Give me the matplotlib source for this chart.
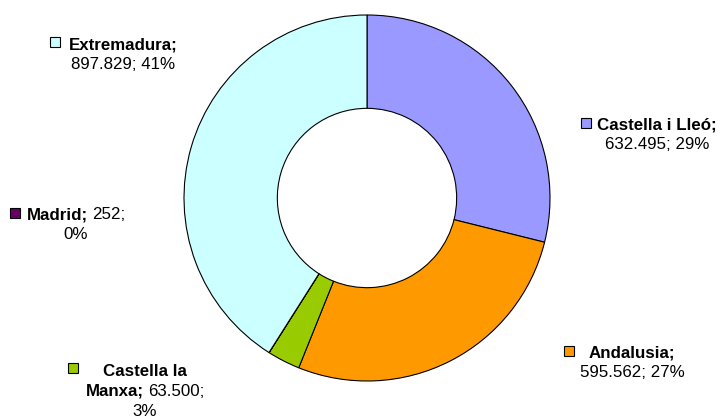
import matplotlib
matplotlib.use('Agg')
import matplotlib.pyplot as plt
from matplotlib.patches import Rectangle

# ---- data ----
categories = ['Castella i Lleó', 'Andalusia', 'Castella la Manxa', 'Madrid', 'Extremadura']
values = [632495, 595562, 63500, 252, 897829]
value_labels = ['632.495', '595.562', '63.500', '252', '897.829']
pct_labels = ['29%', '27%', '3%', '0%', '41%']
colors = ['#9999FF', '#FF9900', '#99CC00', '#660066', '#CCFFFF']

# ---- layout (pixels, origin top-left) ----
W, H = 721, 418
FONT = 'Liberation Sans'
FS = 12.2
LINE = 20
# tokens per line, label centre x, first baseline y, key square (left, top)
layout = {
    'Castella i Lleó':   dict(lines=[3, 2],    cx=657, by=129, sq=(581, 118)),
    'Andalusia':         dict(lines=[1, 2],    cx=632, by=357, sq=(564, 346)),
    'Castella la Manxa': dict(lines=[2, 2, 1], cx=145, by=376, sq=(68, 363)),
    'Madrid':            dict(lines=[2, 1],    cx=76,  by=219, sq=(10, 208)),
    'Extremadura':       dict(lines=[1, 2],    cx=123, by=49,  sq=(50, 37)),
}

fig = plt.figure(figsize=(W / 100, H / 100), dpi=100)
fig.patch.set_facecolor('white')
cx, cy, R = 367, 198, 183
ax = fig.add_axes([(cx - R) / W, (H - cy - R) / H, 2 * R / W, 2 * R / H])
wedges, _ = ax.pie(values, colors=colors, startangle=90, counterclock=False, radius=1,
                   wedgeprops=dict(width=0.51, edgecolor='black', linewidth=0.8))
for w in wedges:
    w.set_clip_on(False)
ax.set_xlim(-1, 1)
ax.set_ylim(-1, 1)
ax.set_axis_off()

renderer = fig.canvas.get_renderer()


def fx(x):
    return x / W


def fy(y):
    return 1 - y / H


space_t = fig.text(0, 0, 'a a', fontsize=FS, family=FONT)
aa_t = fig.text(0, 0, 'aa', fontsize=FS, family=FONT)
space_w = space_t.get_window_extent(renderer).width - aa_t.get_window_extent(renderer).width
space_t.remove()
aa_t.remove()

for name, val, pct, col in zip(categories, value_labels, pct_labels, colors):
    lay = layout[name]
    words = name.split(' ')
    words[-1] = words[-1] + ';'
    tokens = [(w, 'bold') for w in words] + [(val + ';', 'normal'), (pct, 'normal')]
    idx = 0
    for li, n in enumerate(lay['lines']):
        toks = tokens[idx:idx + n]
        idx += n
        # merge consecutive tokens of the same weight
        segs = []
        for s, wgt in toks:
            if segs and segs[-1][1] == wgt:
                segs[-1] = (segs[-1][0] + ' ' + s, wgt)
            else:
                segs.append((s, wgt))
        texts = []
        widths = []
        for s, wgt in segs:
            t = fig.text(0, 0, s, fontsize=FS, family=FONT, fontweight=wgt,
                         ha='left', va='baseline', color='black')
            texts.append(t)
            widths.append(t.get_window_extent(renderer).width)
        total = sum(widths) + space_w * (len(widths) - 1)
        x = lay['cx'] - total / 2
        y = lay['by'] + li * LINE
        for t, wdt in zip(texts, widths):
            t.set_position((fx(x), fy(y)))
            x += wdt + space_w
    sx, sy = lay['sq']
    fig.patches.append(Rectangle((fx(sx), fy(sy + 10)), 10 / W, 10 / H,
                                 transform=fig.transFigure, facecolor=col,
                                 edgecolor='black', linewidth=0.8))

fig.savefig('out.png', dpi=100, facecolor='white')
